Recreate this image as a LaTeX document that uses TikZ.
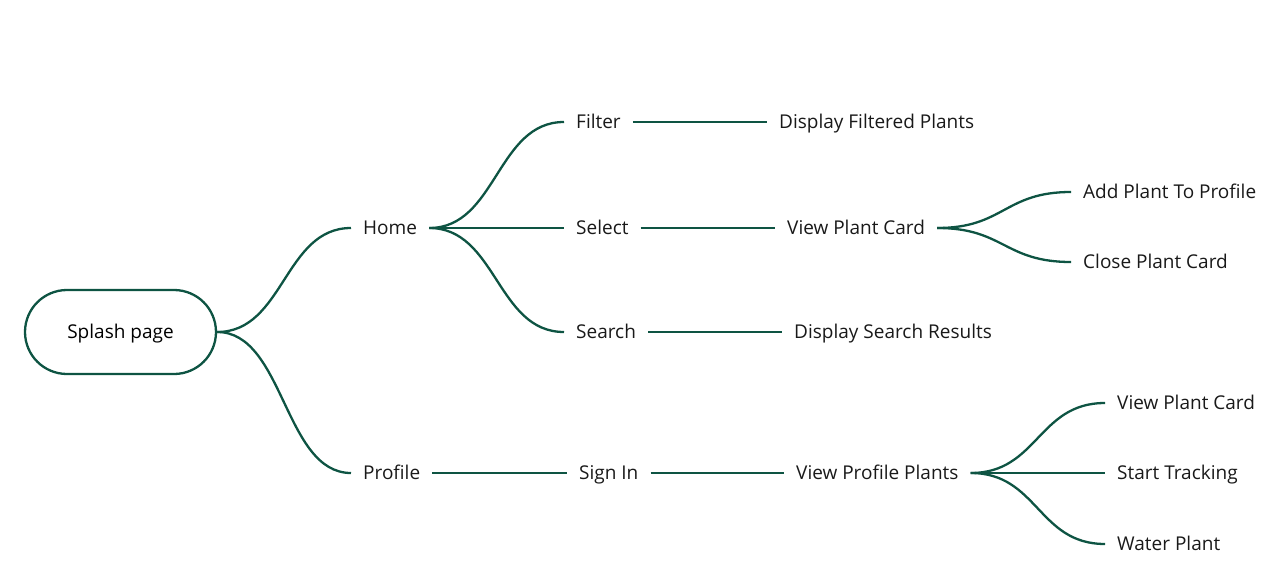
\documentclass[tikz,border=0pt]{standalone}
\usepackage{fontspec}
\setmainfont{Open Sans}
\usetikzlibrary{shapes.misc,calc}
\definecolor{dgreen}{HTML}{0E5443}
\begin{document}
\begin{tikzpicture}[x=1pt,y=-1pt,
  lbl/.style={anchor=west,inner xsep=12pt,inner ysep=0pt,text height=17pt,text depth=3.4pt,font=\fontsize{19}{21}\selectfont,text=black!90},
  conn/.style={draw=dgreen,line width=2.3pt},
  root/.style={rounded rectangle,draw=dgreen,line width=2.3pt,minimum width=191pt,minimum height=84pt,inner sep=0pt,text height=17pt,text depth=3.4pt,font=\fontsize{19}{21}\selectfont}]
\useasboundingbox (0,0) rectangle (1280,578);
\newcommand{\scurve}[2]{\draw[conn] let \p1=(#1.east), \p2=(#2.west) in (\p1) .. controls ({(\x1+\x2)/2},\y1) and ({(\x1+\x2)/2},\y2) .. (\p2);}
\node[root] (splash) at (120.5,332) {Splash page};
\node[lbl] (home) at (351,228) {Home};
\node[lbl] (profile) at (351,473) {Profile};
\node[lbl] (filter) at (564,122) {Filter};
\node[lbl] (select) at (564,228) {Select};
\node[lbl] (search) at (564,332) {Search};
\node[lbl] (dfp) at (767,122) {Display Filtered Plants};
\node[lbl] (vpc) at (775,228) {View Plant Card};
\node[lbl] (dsr) at (782,332) {Display Search Results};
\node[lbl] (addp) at (1071,192) {Add Plant To Profile};
\node[lbl] (close) at (1071,262) {Close Plant Card};
\node[lbl] (signin) at (567,473) {Sign In};
\node[lbl] (vpp) at (784,473) {View Profile Plants};
\node[lbl] (vpc2) at (1105,403) {View Plant Card};
\node[lbl] (track) at (1105,473) {Start Tracking};
\node[lbl] (water) at (1105,544) {Water Plant};
\scurve{splash}{home}
\scurve{splash}{profile}
\scurve{home}{filter}
\scurve{home}{select}
\scurve{home}{search}
\scurve{filter}{dfp}
\scurve{select}{vpc}
\scurve{search}{dsr}
\scurve{vpc}{addp}
\scurve{vpc}{close}
\scurve{profile}{signin}
\scurve{signin}{vpp}
\scurve{vpp}{vpc2}
\scurve{vpp}{track}
\scurve{vpp}{water}
\end{tikzpicture}
\end{document}
